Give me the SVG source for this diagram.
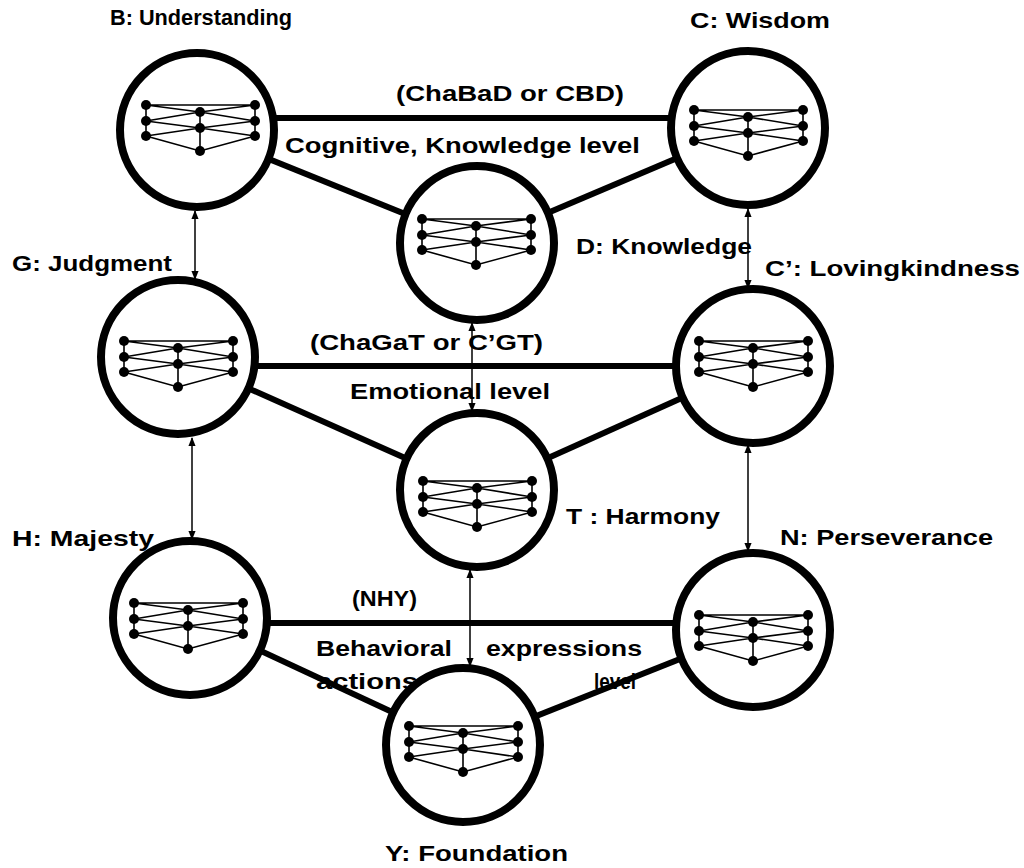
<svg xmlns="http://www.w3.org/2000/svg" xmlns:xlink="http://www.w3.org/1999/xlink" width="1024" height="868" viewBox="0 0 1024 868">
<style>
.ring{fill:#fff;stroke:#000;stroke-width:8}
.in{stroke:#000;stroke-width:1.6;fill:none}
.thick{stroke:#000;stroke-width:6}
.thin{stroke:#000;stroke-width:1.5;marker-start:url(#a);marker-end:url(#a)}
text{font-family:"Liberation Sans",Arial,sans-serif;font-weight:bold;font-size:22px;fill:#000}
</style>
<defs>
<marker id="a" viewBox="0 0 10 10" refX="9" refY="5" markerWidth="6" markerHeight="6" orient="auto-start-reverse"><path d="M0,1 L10,5 L0,9 z"/></marker>
<g id="net">
<path class="in" d="M-54,-24H55 M-54,-24L0,-17L55,-24 M-54,-8L0,-1L55,-8 M-54,7L0,-1L55,7 M-54,7L0,22L55,7 M-54,-24V7 M55,-24V7 M0,-17V22 M-54,-8L0,-17 M55,-8L0,-17"/>
<g fill="#000"><circle cx="-54" cy="-24" r="5"/><circle cx="-54" cy="-8" r="5"/><circle cx="-54" cy="7" r="5"/><circle cx="0" cy="-17" r="5"/><circle cx="0" cy="-1" r="5"/><circle cx="0" cy="22" r="5"/><circle cx="55" cy="-24" r="5"/><circle cx="55" cy="-8" r="5"/><circle cx="55" cy="7" r="5"/></g>
</g>
</defs>
<rect width="1024" height="868" fill="#fff"/>
<g id="connectors">
<line class="thick" x1="197" y1="118" x2="748" y2="118"/>
<line class="thick" x1="197" y1="130" x2="477" y2="243"/>
<line class="thick" x1="748" y1="128" x2="477" y2="243"/>
<line class="thick" x1="178" y1="366" x2="753" y2="366"/>
<line class="thick" x1="178" y1="357" x2="477" y2="490"/>
<line class="thick" x1="753" y1="366" x2="477" y2="490"/>
<line class="thick" x1="190" y1="623" x2="753" y2="623"/>
<line class="thick" x1="190" y1="618" x2="463" y2="745"/>
<line class="thick" x1="753" y1="630" x2="463" y2="745"/>
<line class="thin" x1="195" y1="211" x2="195" y2="279"/>
<line class="thin" x1="748" y1="209" x2="748" y2="288"/>
<line class="thin" x1="472" y1="323" x2="472" y2="411"/>
<line class="thin" x1="192" y1="438" x2="192" y2="539"/>
<line class="thin" x1="748" y1="445" x2="748" y2="551"/>
<line class="thin" x1="470" y1="570" x2="470" y2="666"/>
</g>
<g id="B"><circle class="ring" cx="197" cy="130" r="77"/><use xlink:href="#net" x="200" y="129"/></g>
<g id="C"><circle class="ring" cx="748" cy="128" r="77"/><use xlink:href="#net" x="748" y="134"/></g>
<g id="D"><circle class="ring" cx="477" cy="243" r="77"/><use xlink:href="#net" x="476" y="243"/></g>
<g id="G"><circle class="ring" cx="178" cy="357" r="77"/><use xlink:href="#net" x="178" y="365"/></g>
<g id="Cp"><circle class="ring" cx="753" cy="366" r="77"/><use xlink:href="#net" x="753" y="365"/></g>
<g id="T"><circle class="ring" cx="477" cy="490" r="77"/><use xlink:href="#net" x="477" y="505"/></g>
<g id="H"><circle class="ring" cx="190" cy="618" r="77"/><use xlink:href="#net" x="188" y="627"/></g>
<g id="N"><circle class="ring" cx="753" cy="630" r="77"/><use xlink:href="#net" x="753" y="639"/></g>
<g id="Y"><circle class="ring" cx="463" cy="745" r="77"/><use xlink:href="#net" x="463" y="750"/></g>
<g id="labels" lengthAdjust="spacingAndGlyphs">
<text x="110" y="25" textLength="182" lengthAdjust="spacingAndGlyphs">B: Understanding</text>
<text x="690" y="28" textLength="140" lengthAdjust="spacingAndGlyphs">C: Wisdom</text>
<text x="396" y="101" textLength="228" lengthAdjust="spacingAndGlyphs">(ChaBaD or CBD)</text>
<text x="285" y="153" textLength="355" lengthAdjust="spacingAndGlyphs">Cognitive, Knowledge level</text>
<text x="576" y="254" textLength="176" lengthAdjust="spacingAndGlyphs">D: Knowledge</text>
<text x="12" y="271" textLength="160" lengthAdjust="spacingAndGlyphs">G: Judgment</text>
<text x="765" y="276" textLength="255" lengthAdjust="spacingAndGlyphs">C’: Lovingkindness</text>
<text x="310" y="350" textLength="233" lengthAdjust="spacingAndGlyphs">(ChaGaT or  C’GT)</text>
<text x="350" y="399" textLength="200" lengthAdjust="spacingAndGlyphs">Emotional level</text>
<text x="566" y="524" textLength="154" lengthAdjust="spacingAndGlyphs">T : Harmony</text>
<text x="12" y="546" textLength="142" lengthAdjust="spacingAndGlyphs">H: Majesty</text>
<text x="780" y="545" textLength="213" lengthAdjust="spacingAndGlyphs">N: Perseverance</text>
<text x="352" y="606" textLength="65" lengthAdjust="spacingAndGlyphs">(NHY)</text>
<text x="316" y="656" textLength="136" lengthAdjust="spacingAndGlyphs">Behavioral</text>
<text x="316" y="689" textLength="102" lengthAdjust="spacingAndGlyphs">actions</text>
<text x="486" y="656" textLength="156" lengthAdjust="spacingAndGlyphs">expressions</text>
<text x="594" y="689" textLength="42" lengthAdjust="spacingAndGlyphs">level</text>
<text x="385" y="861" textLength="183" lengthAdjust="spacingAndGlyphs">Y: Foundation</text>
</g>
</svg>
